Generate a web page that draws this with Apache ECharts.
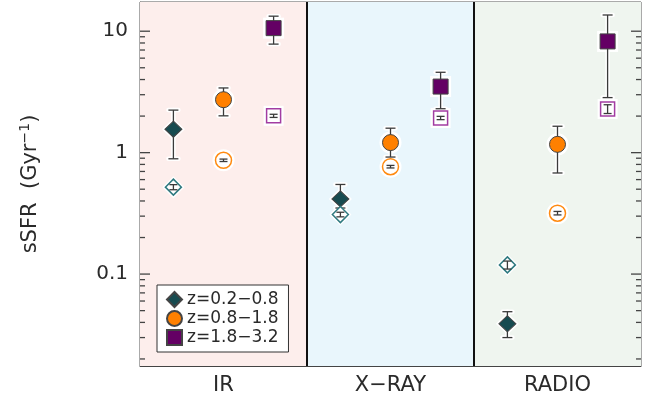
<!DOCTYPE html>
<html><head><meta charset="utf-8">
<script src="https://cdn.jsdelivr.net/npm/echarts@6/dist/echarts.min.js"></script>
<style>html,body{margin:0;padding:0;background:#fff}#c{width:654px;height:400px}</style>
</head><body><div id="c"></div>
<script>
const categories = ['IR', 'X\u2212RAY', 'RADIO'];
const binOffsets = [0.2, 0.5, 0.8];
const binNames = ['z=0.2\u22120.8', 'z=0.8\u22121.8', 'z=1.8\u22123.2'];
const yTickLabels = ['0.1', '1', '10'];
const yMajorTicks = [0.1, 1, 10];
const yMinorTicks = [0.02,0.03,0.04,0.05,0.06,0.07,0.08,0.09,0.2,0.3,0.4,0.5,0.6,0.7,0.8,0.9,2,3,4,5,6,7,8,9];

// filled symbols (per panel IR, X-RAY, RADIO)
const lowZ = [1.56, 0.416, 0.039];
const lowZLo = [0.89, 0.35, 0.030];
const lowZHi = [2.24, 0.547, 0.049];
const midZ = [2.73, 1.21, 1.17];
const midZLo = [2.01, 0.92, 0.68];
const midZHi = [3.41, 1.59, 1.65];
const highZ = [10.6, 3.50, 8.24];
const highZLo = [7.83, 2.3, 2.84];
const highZHi = [13.3, 4.59, 13.6];
// open symbols
const lowZOpen = [0.52, 0.309, 0.119];
const lowZOpenLo = [0.495, 0.296, 0.110];
const lowZOpenHi = [0.545, 0.323, 0.128];
const midZOpen = [0.865, 0.766, 0.317];
const midZOpenLo = [0.845, 0.748, 0.307];
const midZOpenHi = [0.885, 0.785, 0.328];
const highZOpen = [2.01, 1.93, 2.29];
const highZOpenLo = [1.95, 1.87, 2.10];
const highZOpenHi = [2.07, 1.99, 2.48];

const FONT = 'DejaVu Sans';
const TXT = '#2a2a2a';

function pts(bin, vals) { return vals.map((v, i) => [i + binOffsets[bin], v]); }
function errs(bin, vals, lo, hi) { return vals.map((v, i) => [i + binOffsets[bin], v, lo[i], hi[i]]); }

function errRender(capW, halo) {
  return function (params, api) {
    const x = api.value(0), lo = api.value(2), hi = api.value(3);
    const a = api.coord([x, hi]), b = api.coord([x, lo]);
    const segs = [[a[0], a[1], b[0], b[1]], [a[0]-capW, a[1], a[0]+capW, a[1]], [b[0]-capW, b[1], b[0]+capW, b[1]]];
    const ch = [];
    if (halo) segs.forEach(s => ch.push({type:'line', shape:{x1:s[0],y1:s[1],x2:s[2],y2:s[3]}, style:{stroke:'#fff', lineWidth:4.5, lineCap:'round'}}));
    segs.forEach(s => ch.push({type:'line', shape:{x1:s[0],y1:s[1],x2:s[2],y2:s[3]}, style:{stroke:'#3a3a3a', lineWidth:1.3}}));
    return {type:'group', children: ch};
  };
}

const filledStyle = [
  {symbol:'diamond', size:[17,16], color:'#174b50'},
  {symbol:'circle', size:16, color:'#ff8000'},
  {symbol:'rect', size:15, color:'#640064'}
];
const openStyle = [
  {symbol:'diamond', size:[16,16], color:'#2f7a80'},
  {symbol:'circle', size:16, color:'#ff8a10'},
  {symbol:'rect', size:14, color:'#a23ca2'}
];
const filledVals = [[lowZ,lowZLo,lowZHi],[midZ,midZLo,midZHi],[highZ,highZLo,highZHi]];
const openVals = [[lowZOpen,lowZOpenLo,lowZOpenHi],[midZOpen,midZOpenLo,midZOpenHi],[highZOpen,highZOpenLo,highZOpenHi]];

const series = [];
// backgrounds and dividers
series.push({
  type:'scatter', data:[], z:0, silent:true,
  markArea:{silent:true, data:[
    [{xAxis:0, itemStyle:{color:'#fdeeec'}}, {xAxis:1}],
    [{xAxis:1, itemStyle:{color:'#e9f6fc'}}, {xAxis:2}],
    [{xAxis:2, itemStyle:{color:'#eff5ef'}}, {xAxis:3}]
  ]},
  markLine:{silent:true, symbol:'none', label:{show:false}, lineStyle:{color:'#111', width:2, type:'solid'},
    data:[{xAxis:1}, {xAxis:2}]}
});
// halos
for (let b = 0; b < 3; b++) {
  const fs = filledStyle[b], os = openStyle[b];
  const grow = s => Array.isArray(s) ? [s[0]+6, s[1]+6] : s + 6;
  series.push({type:'scatter', silent:true, z:2, symbol:fs.symbol, symbolSize:grow(fs.size),
    itemStyle:{color:'#fff', opacity:1}, data:pts(b, filledVals[b][0])});
  series.push({type:'scatter', silent:true, z:2, symbol:os.symbol, symbolSize:grow(os.size),
    itemStyle:{color:'#fff', opacity:1}, data:pts(b, openVals[b][0])});
}
// filled error bars
for (let b = 0; b < 3; b++) {
  const v = filledVals[b];
  series.push({type:'custom', silent:true, z:3, renderItem:errRender(5, true), encode:{x:0, y:[1,2,3]},
    data:errs(b, v[0], v[1], v[2])});
}
// filled markers (legend)
for (let b = 0; b < 3; b++) {
  const fs = filledStyle[b];
  series.push({type:'scatter', name:binNames[b], z:4, symbol:fs.symbol, symbolSize:fs.size,
    itemStyle:{color:fs.color, borderColor:'#444', borderWidth:1, opacity:1},
    data:pts(b, filledVals[b][0])});
}
// open markers
for (let b = 0; b < 3; b++) {
  const os = openStyle[b];
  series.push({type:'scatter', z:4, symbol:os.symbol, symbolSize:os.size, silent:true,
    itemStyle:{color:'#fff', borderColor:os.color, borderWidth:1.5, opacity:1},
    data:pts(b, openVals[b][0])});
}
// open error bars
for (let b = 0; b < 3; b++) {
  const v = openVals[b];
  series.push({type:'custom', silent:true, z:5, renderItem:errRender(4, false), encode:{x:0, y:[1,2,3]},
    data:errs(b, v[0], v[1], v[2])});
}
// y ticks (both sides)
const tickData = yMajorTicks.map(v => [0, v, 1]).concat(yMinorTicks.map(v => [0, v, 0]));
series.push({type:'custom', silent:true, z:6, encode:{x:0, y:1},
  renderItem:function(params, api){
    const v = api.value(1), major = api.value(2) === 1;
    const L = major ? 10 : 5;
    const p = api.coord([0, v]), q = api.coord([3, v]);
    return {type:'group', children:[
      {type:'line', shape:{x1:p[0], y1:p[1], x2:p[0]+L, y2:p[1]}, style:{stroke:'#444', lineWidth:1.3}},
      {type:'line', shape:{x1:q[0], y1:q[1], x2:q[0]-L, y2:q[1]}, style:{stroke:'#444', lineWidth:1.3}}
    ]};
  },
  data:tickData});

const option = {
  animation:false,
  backgroundColor:'#fff',
  grid:{left:140, right:13, top:2, bottom:34, show:true, borderColor:'#555', borderWidth:1, backgroundColor:'transparent'},
  legend:{
    data:binNames, selectedMode:false, orient:'vertical', left:157, top:285,
    itemWidth:15, itemHeight:15, itemGap:2, padding:[6,10,6,9],
    backgroundColor:'#fff', borderColor:'#333', borderWidth:1,
    textStyle:{fontFamily:FONT, fontSize:17, color:TXT, lineHeight:15}
  },
  xAxis:{type:'value', min:0, max:3, interval:0.5,
    axisLine:{show:true, lineStyle:{color:'#444', width:1}},
    axisTick:{show:false}, splitLine:{show:false},
    axisLabel:{fontFamily:FONT, fontSize:21, color:TXT, margin:9,
      formatter:function(v){ const i = Math.round(v - 0.5); return (Math.abs(v - (i + 0.5)) < 1e-6 && i >= 0 && i < 3) ? categories[i] : ''; }}
  },
  yAxis:{type:'log', logBase:10, min:0.0175, max:17.4,
    axisLine:{show:true, lineStyle:{color:'#888'}},
    axisTick:{show:false}, splitLine:{show:false},
    axisLabel:{fontFamily:FONT, fontSize:20, color:TXT, margin:12, showMinLabel:false, showMaxLabel:false,
      formatter:function(v){
        for (let i = 0; i < yMajorTicks.length; i++) if (Math.abs(Math.log10(v) - Math.log10(yMajorTicks[i])) < 1e-6) return yTickLabels[i];
        return '';
      }},
    name:'sSFR  (Gyr{sup|\u22121})', nameLocation:'middle', nameGap:96, nameRotate:90,
    nameTextStyle:{fontFamily:FONT, fontSize:21, color:TXT,
      rich:{sup:{fontFamily:FONT, fontSize:14, color:TXT, padding:[0,0,12,0]}}}
  },
  series:series
};
const chart = echarts.init(document.getElementById('c'), null, {renderer:'canvas'});
chart.setOption(option);
</script></body></html>
